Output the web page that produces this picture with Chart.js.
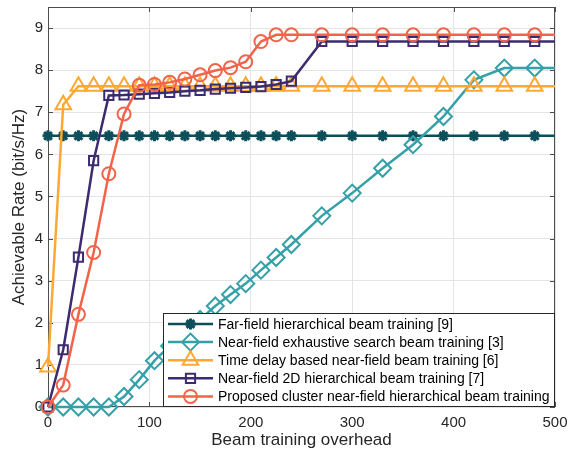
<!DOCTYPE html>
<html>
<head>
<meta charset="utf-8">
<script src="https://cdn.jsdelivr.net/npm/chart.js@4/dist/chart.umd.min.js"></script>
<style>
  html, body { margin: 0; padding: 0; background: #fff; }
  #wrap { width: 574px; height: 451px; position: relative; }
</style>
</head>
<body>
<div id="wrap"><canvas id="rate-chart"></canvas></div>
<script>
// beam training overhead (x); last point has no marker, it only carries the line to the edge
const overhead = [0, 15, 30, 45, 60, 75, 90, 105, 120, 135, 150, 165, 180, 195, 210, 225, 240,
    270, 300, 330, 360, 390, 420, 450, 480, 500];

const farField = [6.44, 6.44, 6.44, 6.44, 6.44, 6.44, 6.44, 6.44, 6.44, 6.44, 6.44, 6.44, 6.44,
    6.44, 6.44, 6.44, 6.44, 6.44, 6.44, 6.44, 6.44, 6.44, 6.44, 6.44, 6.44, 6.44];
const exhaustive = [0, 0, 0, 0, 0, 0.25, 0.65, 1.1, 1.45, 1.75, 2.08, 2.4, 2.67, 2.93, 3.25, 3.55,
    3.86, 4.54, 5.08, 5.67, 6.23, 6.9, 7.77, 8.05, 8.05, 8.05];
const timeDelay = [0.95, 7.18, 7.62, 7.62, 7.62, 7.62, 7.62, 7.62, 7.62, 7.62, 7.62, 7.62, 7.62,
    7.62, 7.62, 7.62, 7.62, 7.62, 7.62, 7.62, 7.62, 7.62, 7.62, 7.62, 7.62, 7.62];
const hier2D = [0, 1.36, 3.56, 5.85, 7.4, 7.41, 7.43, 7.45, 7.47, 7.5, 7.52, 7.55, 7.57, 7.59,
    7.61, 7.66, 7.74, 8.68, 8.68, 8.68, 8.68, 8.68, 8.68, 8.68, 8.68, 8.68];
const proposed = [0, 0.52, 2.2, 3.67, 5.54, 6.96, 7.64, 7.66, 7.71, 7.79, 7.89, 7.99, 8.06, 8.2,
    8.68, 8.84, 8.84, 8.84, 8.84, 8.84, 8.84, 8.84, 8.84, 8.84, 8.84, 8.84];

const seriesLabels = [
    'Far-field hierarchical beam training [9]',
    'Near-field exhaustive search beam training [3]',
    'Time delay based near-field beam training [6]',
    'Near-field 2D hierarchical beam training [7]',
    'Proposed cluster near-field hierarchical beam training'
];
const xTicks = [0, 100, 200, 300, 400, 500];
const yTicks = [0, 1, 2, 3, 4, 5, 6, 7, 8, 9];

const FONT = '"Liberation Sans", Arial, Helvetica, sans-serif';
const AXIS_COLOR = '#4d4d4d';

const styles = [
    { color: '#0c4e5a', pointStyle: 'star', radius: 5.5, borderWidth: 3 },
    { color: '#35a0a8', pointStyle: 'rectRot', radius: 8.5, borderWidth: 2 },
    { color: '#fca932', pointStyle: 'triangle', radius: 9, borderWidth: 2 },
    { color: '#3d2b6f', pointStyle: 'rect', radius: 6.5, borderWidth: 2 },
    { color: '#f1644a', pointStyle: 'circle', radius: 6.5, borderWidth: 2 }
];

function makeDataset(values, index) {
    const st = styles[index];
    const lastIndex = values.length - 1;
    return {
        label: seriesLabels[index],
        data: values.map((v, i) => ({ x: overhead[i], y: v })),
        borderColor: st.color,
        backgroundColor: 'rgba(0,0,0,0)',
        borderWidth: 2.5,
        pointStyle: st.pointStyle,
        pointRadius: (ctx) => ctx.dataIndex === lastIndex ? 0 : st.radius,
        pointBorderWidth: st.borderWidth,
        pointBorderColor: st.color,
        pointBackgroundColor: 'rgba(0,0,0,0)',
        tension: 0,
        clip: false,
        order: 4 - index
    };
}

// MATLAB style box with inward ticks
const boxPlugin = {
    id: 'box',
    beforeDatasetsDraw(chart) {
        const { ctx, chartArea: a, scales } = chart;
        ctx.save();
        ctx.strokeStyle = AXIS_COLOR;
        ctx.lineWidth = 1;
        ctx.strokeRect(a.left + 0.5, a.top + 0.5, a.right - a.left - 1, a.bottom - a.top - 1);
        ctx.beginPath();
        xTicks.forEach((t) => {
            const px = Math.round(scales.x.getPixelForValue(t)) + 0.5;
            ctx.moveTo(px, a.bottom); ctx.lineTo(px, a.bottom - 5);
            ctx.moveTo(px, a.top); ctx.lineTo(px, a.top + 5);
        });
        yTicks.forEach((t) => {
            const py = Math.round(scales.y.getPixelForValue(t)) + 0.5;
            ctx.moveTo(a.left, py); ctx.lineTo(a.left + 5, py);
            ctx.moveTo(a.right, py); ctx.lineTo(a.right - 5, py);
        });
        ctx.stroke();
        ctx.restore();
    }
};

// legend box inside the lower right corner of the axes
const legendPlugin = {
    id: 'insideLegend',
    afterDatasetsDraw(chart) {
        const { ctx, chartArea: a } = chart;
        const rowH = 18.1;
        const boxLeft = 163;
        const boxTop = a.bottom - 94;
        ctx.save();
        ctx.fillStyle = '#fff';
        ctx.fillRect(boxLeft, boxTop, a.right - boxLeft, a.bottom - boxTop);
        ctx.strokeStyle = '#262626';
        ctx.lineWidth = 1;
        ctx.strokeRect(boxLeft + 0.5, boxTop + 0.5, a.right - boxLeft - 1, a.bottom - boxTop - 1);

        ctx.font = '14px ' + FONT;
        ctx.textBaseline = 'middle';
        ctx.textAlign = 'left';
        chart.data.datasets.forEach((ds, i) => {
            const st = styles[i];
            const y = boxTop + 11 + i * rowH;
            ctx.strokeStyle = st.color;
            ctx.lineWidth = 2.5;
            ctx.beginPath();
            ctx.moveTo(boxLeft + 5, y);
            ctx.lineTo(boxLeft + 50, y);
            ctx.stroke();
            if (Chart.helpers && Chart.helpers.drawPoint) {
                ctx.lineWidth = st.borderWidth;
                ctx.fillStyle = 'rgba(0,0,0,0)';
                Chart.helpers.drawPoint(ctx, {
                    pointStyle: st.pointStyle,
                    radius: st.radius,
                    borderWidth: st.borderWidth,
                    rotation: 0
                }, boxLeft + 27.5, y);
            }
            ctx.fillStyle = '#000';
            ctx.fillText(ds.label, boxLeft + 55, y + 1);
        });
        ctx.restore();
    }
};

new Chart(document.getElementById('rate-chart'), {
    type: 'line',
    data: {
        datasets: [farField, exhaustive, timeDelay, hier2D, proposed].map(makeDataset)
    },
    options: {
        responsive: true,
        maintainAspectRatio: false,
        animation: false,
        devicePixelRatio: 1,
        layout: { autoPadding: false, padding: { top: 7, right: 19, left: 0, bottom: 0 } },
        plugins: {
            legend: { display: false },
            tooltip: { enabled: false }
        },
        scales: {
            x: {
                type: 'linear',
                min: 0,
                max: 500,
                afterFit: (scale) => {
                    scale.height = 44;
                    scale.paddingLeft = 0;
                    scale.paddingRight = 0;
                },
                afterBuildTicks: (scale) => { scale.ticks = xTicks.map((v) => ({ value: v })); },
                ticks: {
                    color: '#262626',
                    padding: 7,
                    font: { family: FONT, size: 15 }
                },
                grid: { color: '#e4e4e4', drawTicks: false },
                border: { display: false },
                title: {
                    display: true,
                    text: 'Beam training overhead',
                    color: '#262626',
                    font: { family: FONT, size: 17 },
                    padding: { top: 0, bottom: 0 }
                }
            },
            y: {
                type: 'linear',
                min: 0,
                max: 9.5,
                afterFit: (scale) => {
                    scale.width = 48;
                    scale.paddingTop = 0;
                    scale.paddingBottom = 0;
                },
                afterBuildTicks: (scale) => { scale.ticks = yTicks.map((v) => ({ value: v })); },
                ticks: {
                    color: '#262626',
                    padding: 5,
                    font: { family: FONT, size: 15 }
                },
                grid: { color: '#e4e4e4', drawTicks: false },
                border: { display: false },
                title: {
                    display: true,
                    text: 'Achievable Rate (bit/s/Hz)',
                    color: '#262626',
                    font: { family: FONT, size: 17 },
                    padding: { top: 9, bottom: 0 }
                }
            }
        }
    },
    plugins: [boxPlugin, legendPlugin]
});
</script>
</body>
</html>
